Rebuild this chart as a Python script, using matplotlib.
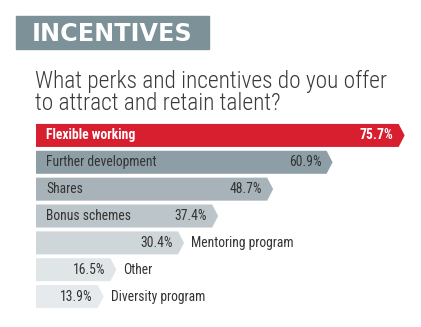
import matplotlib
matplotlib.use('Agg')
import matplotlib.pyplot as plt
from matplotlib.patches import Polygon, Rectangle

# Survey data
categories = ['Flexible working', 'Further development', 'Shares', 'Bonus schemes',
              'Mentoring program', 'Other', 'Diversity program']
values = [75.7, 60.9, 48.7, 37.4, 30.4, 16.5, 13.9]
bar_colors = ['#d71f30', '#8e9ea6', '#a7b3b9', '#bcc5ca', '#cfd6da', '#e0e5e8', '#e6eaec']
text_colors = ['white', '#333333', '#333333', '#333333', '#333333', '#333333', '#333333']

title = 'INCENTIVES'
question = 'What perks and incentives do you offer\nto attract and retain talent?'

W, H = 421, 327
NARROW = ['Roboto Condensed', 'Liberation Sans Narrow', 'Roboto', 'DejaVu Sans']

fig = plt.figure(figsize=(W / 100, H / 100), dpi=100)
fig.patch.set_facecolor('white')

# header block
fig.patches.append(Rectangle((16 / W, 1 - 49 / H), 193 / W, 33 / H,
                             transform=fig.transFigure, color='#7d9199', zorder=0))
fig.text(32 / W, 1 - 41 / H, title, color='white', fontsize=17.2,
         fontweight='bold', family='DejaVu Sans', va='baseline', ha='left')

# baseline here is the second line's
fig.text(35 / W, 1 - 110.5 / H, question, color='#3a3a3a', fontsize=16.8,
         family=NARROW, fontweight='light', va='baseline', ha='left',
         linespacing=0.96)

# bars: pointed-end horizontal bars
px_per_pct = 4.87
ax = fig.add_axes([36 / W, 1 - 310 / H, 385 / W, 188 / H])
ax.set_xlim(0, 385 / px_per_pct)
ax.set_ylim(len(values) - 0.5, -0.5)
ax.axis('off')

h = 0.857
tip = 6 / px_per_pct
fs = 9.8
for i, (cat, v, c, tc) in enumerate(zip(categories, values, bar_colors, text_colors)):
    verts = [(0, i - h / 2), (v - tip, i - h / 2), (v, i),
             (v - tip, i + h / 2), (0, i + h / 2)]
    ax.add_patch(Polygon(verts, closed=True, facecolor=c, edgecolor='none'))
    weight = 'bold' if i == 0 else 'normal'
    ax.annotate(f'{v}%', (v, i), xytext=(-11 * 0.72, 0), textcoords='offset points',
                ha='right', va='center', color=tc, fontsize=fs, family=NARROW,
                fontweight=weight)
    if v > 35:
        ax.annotate(cat, (0, i), xytext=(10 * 0.72, 0), textcoords='offset points',
                    ha='left', va='center', color=tc, fontsize=fs, family=NARROW,
                    fontweight=weight)
    else:
        ax.annotate(cat, (v, i), xytext=(7 * 0.72, 0), textcoords='offset points',
                    ha='left', va='center', color='#333333', fontsize=fs, family=NARROW)

fig.savefig('out.png', dpi=100, facecolor='white')
